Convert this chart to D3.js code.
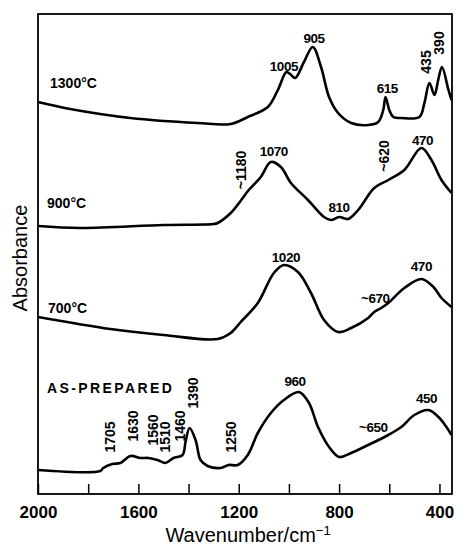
<!DOCTYPE html>
<html>
<head>
<meta charset="utf-8">
<script src="https://cdn.jsdelivr.net/npm/d3@7"></script>
<style>
  body { margin: 0; background: #fff; }
  svg { display: block; }
</style>
</head>
<body>
<div id="chart"></div>
<script>
// IR spectra, wavenumber (cm-1) vs absorbance (arbitrary units, offset per trace)
const wn1300 = [2000, 1872, 1632, 1364, 1232, 1164, 1084, 1044, 1010, 995, 975, 940, 905, 872, 840, 804, 752, 684, 644, 624, 615, 600, 584, 552, 480, 460, 440, 420, 405, 390, 364, 352];
const ab1300 = [3.92, 3.85, 3.76, 3.71, 3.70, 3.77, 3.87, 4.04, 4.22, 4.20, 4.16, 4.32, 4.47, 4.27, 3.97, 3.81, 3.71, 3.69, 3.72, 3.84, 3.97, 3.84, 3.77, 3.76, 3.77, 3.91, 4.11, 3.99, 4.14, 4.27, 4.04, 3.94];

const wn900 = [2000, 1832, 1500, 1300, 1284, 1232, 1190, 1160, 1112, 1072, 1032, 992, 924, 860, 832, 800, 764, 724, 660, 604, 540, 472, 432, 392, 352];
const ab900 = [2.68, 2.66, 2.69, 2.70, 2.71, 2.81, 2.94, 3.04, 3.17, 3.32, 3.27, 3.11, 2.94, 2.77, 2.74, 2.77, 2.75, 2.84, 3.06, 3.14, 3.24, 3.46, 3.34, 3.14, 3.01];

const wn700 = [2000, 1712, 1500, 1284, 1232, 1192, 1124, 1060, 1020, 964, 912, 860, 804, 752, 684, 660, 632, 604, 540, 472, 424, 392, 352];
const ab700 = [1.77, 1.65, 1.59, 1.55, 1.61, 1.72, 1.91, 2.21, 2.29, 2.22, 2.01, 1.74, 1.62, 1.66, 1.76, 1.82, 1.86, 1.91, 2.06, 2.15, 2.07, 1.96, 1.87];

const wnPrep = [2000, 1752, 1740, 1704, 1672, 1632, 1592, 1560, 1524, 1492, 1460, 1424, 1412, 1396, 1372, 1352, 1324, 1272, 1240, 1204, 1164, 1124, 1072, 1020, 960, 920, 884, 840, 800, 752, 684, 604, 552, 500, 444, 404, 372, 352];
const abPrep = [0.24, 0.23, 0.26, 0.30, 0.31, 0.38, 0.36, 0.36, 0.34, 0.31, 0.36, 0.39, 0.52, 0.66, 0.54, 0.34, 0.28, 0.26, 0.29, 0.29, 0.39, 0.61, 0.81, 0.94, 1.02, 0.91, 0.67, 0.47, 0.37, 0.41, 0.49, 0.59, 0.67, 0.79, 0.84, 0.77, 0.67, 0.59];

const seriesNames = ["1300°C", "900°C", "700°C", "AS-PREPARED"];
const seriesNamePos = [[1952, 4.06], [1964, 2.86], [1960, 1.81], [1964, 1.01]];

// peak annotations: text, wavenumber, absorbance, rotated
const peakText = ["905", "1005", "615", "435", "390",
                  "~1180", "1070", "810", "~620", "470",
                  "1020", "~670", "470",
                  "960", "~650", "450", "1705", "1630", "1560", "1510", "1460", "1390", "1250"];
const peakWn = [900, 1020, 608, 432, 380,
                1172, 1060, 800, 600, 468,
                1012, 656, 472,
                976, 664, 452, 1692, 1600, 1520, 1472, 1416, 1364, 1212];
const peakAb = [4.51, 4.23, 4.01, 4.32, 4.51,
                3.24, 3.38, 2.82, 3.38, 3.49,
                2.32, 1.91, 2.23,
                1.08, 0.62, 0.91, 0.57, 0.68, 0.64, 0.57, 0.68, 1.01, 0.57];
const peakRot = [0, 0, 0, 1, 1,
                 1, 0, 0, 1, 0,
                 0, 0, 0,
                 0, 0, 0, 1, 1, 1, 1, 1, 1, 1];

const tickVals = [2000, 1800, 1600, 1400, 1200, 1000, 800, 600, 400];
const tickLabels = [2000, 1600, 1200, 800, 400];

const width = 458, height = 547;
const margin = {top: 14, right: 6, bottom: 53, left: 38};

const svg = d3.select("#chart").append("svg")
    .attr("width", width)
    .attr("height", height);

const x = d3.scaleLinear().domain([2000, 350]).range([margin.left, width - margin.right]);
const y = d3.scaleLinear().domain([0, 4.8]).range([height - margin.bottom, margin.top]);

const font = "'Liberation Sans', Arial, Helvetica, sans-serif";

// x axis with inward ticks
const xAxis = d3.axisBottom(x)
    .tickValues(tickVals)
    .tickSizeInner(-10)
    .tickSizeOuter(0)
    .tickPadding(12)
    .tickFormat(d => tickLabels.includes(d) ? d : "");

const ax = svg.append("g")
    .attr("transform", `translate(0, ${height - margin.bottom})`)
    .call(xAxis);
ax.select(".domain").remove();
ax.selectAll(".tick line").attr("stroke", "#000").attr("stroke-width", 1.5);
ax.selectAll(".tick text")
    .attr("fill", "#000")
    .style("font-family", font)
    .style("font-size", "17px")
    .style("font-weight", "bold");

// frame
svg.append("rect")
    .attr("x", margin.left)
    .attr("y", margin.top)
    .attr("width", width - margin.left - margin.right)
    .attr("height", height - margin.top - margin.bottom)
    .attr("fill", "none")
    .attr("stroke", "#000")
    .attr("stroke-width", 1.8);

const line = d3.line()
    .x(d => x(d[0]))
    .y(d => y(d[1]))
    .curve(d3.curveCatmullRom.alpha(0.5));

const spectra = [[wn1300, ab1300], [wn900, ab900], [wn700, ab700], [wnPrep, abPrep]];
spectra.forEach(([wn, ab]) => {
    svg.append("path")
        .datum(wn.map((w, i) => [w, ab[i]]))
        .attr("d", line)
        .attr("fill", "none")
        .attr("stroke", "#000")
        .attr("stroke-width", 2.6)
        .attr("stroke-linejoin", "round");
});

// trace names
seriesNames.forEach((name, i) => {
    svg.append("text")
        .text(name)
        .attr("x", x(seriesNamePos[i][0]))
        .attr("y", y(seriesNamePos[i][1]))
        .style("font-family", font)
        .style("font-size", "14px")
        .style("font-weight", "bold")
        .style("letter-spacing", name === "AS-PREPARED" ? "2.4px" : "0px");
});

// peak labels
peakText.forEach((t, i) => {
    const px = x(peakWn[i]), py = y(peakAb[i]);
    const txt = svg.append("text")
        .text(t)
        .attr("text-anchor", "middle")
        .style("font-family", font)
        .style("font-weight", "bold");
    if (peakRot[i]) {
        txt.attr("transform", `translate(${px}, ${py}) rotate(-90)`)
            .style("font-size", "14px");
    } else {
        txt.attr("x", px).attr("y", py)
            .style("font-size", "13.5px")
            .style("letter-spacing", "-0.5px");
    }
});

// axis titles
const xt = svg.append("text")
    .attr("x", 248)
    .attr("y", 542)
    .attr("text-anchor", "middle")
    .style("font-family", font)
    .style("font-size", "20px");
xt.append("tspan").text("Wavenumber/cm");
xt.append("tspan").text("−1").attr("dy", -7).style("font-size", "13px");

svg.append("text")
    .text("Absorbance")
    .attr("transform", `translate(27, 258) rotate(-90)`)
    .attr("text-anchor", "middle")
    .style("font-family", font)
    .style("font-size", "20px");
</script>
</body>
</html>
